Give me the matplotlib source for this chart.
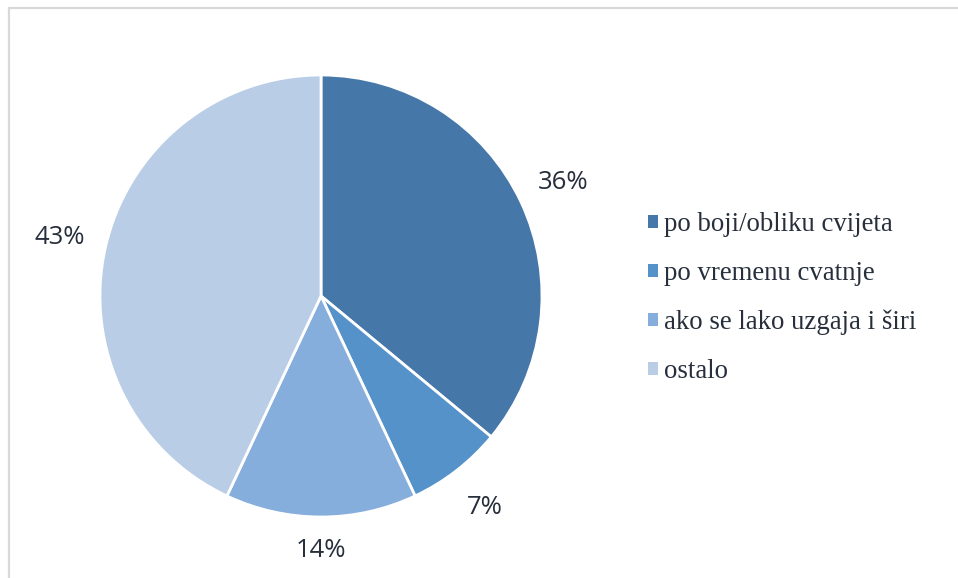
import matplotlib.pyplot as plt
from matplotlib.patches import Rectangle, Patch

categories = ["po boji/obliku cvijeta", "po vremenu cvatnje",
              "ako se lako uzgaja i širi", "ostalo"]
shares = [36, 7, 14, 43]
colors = ["#4677A9", "#5592CA", "#86AEDC", "#B9CDE7"]
text_color = "#262F3B"

fig = plt.figure(figsize=(9.58, 5.78), dpi=100)

# light frame around the chart area
fig.patches.append(Rectangle((9 / 958, -0.1), 1.0, 1 - 8 / 578 + 0.1,
                             transform=fig.transFigure, fill=False,
                             edgecolor="#D9D9D9", linewidth=1.6))

ax = fig.add_axes([100 / 958, 61 / 578, 442 / 958, 442 / 578])
wedges, texts, autotexts = ax.pie(
    shares, colors=colors, startangle=90, counterclock=False, radius=1,
    autopct="%1.0f%%", pctdistance=1.21,
    wedgeprops=dict(edgecolor="white", linewidth=2.0),
    textprops=dict(color=text_color, fontsize=18.5, family="Open Sans"),
)
# the bottom label sits a bit closer to the pie
x, y = autotexts[2].get_position()
autotexts[2].set_position((x * 1.15 / 1.21, y * 1.15 / 1.21))

ax.set_xlim(-1, 1)
ax.set_ylim(-1, 1)
ax.set_aspect("equal")

handles = [Patch(facecolor=c, edgecolor="none") for c in colors]
fig.legend(handles, categories, loc="center left",
           bbox_to_anchor=(624 / 958, 1 - 298 / 578), frameon=False,
           prop=dict(family="Liberation Serif", size=19.3),
           labelcolor=text_color, handlelength=0.37, handleheight=0.37,
           handletextpad=0.22, labelspacing=0.88)

fig.savefig("out.png", dpi=100)
